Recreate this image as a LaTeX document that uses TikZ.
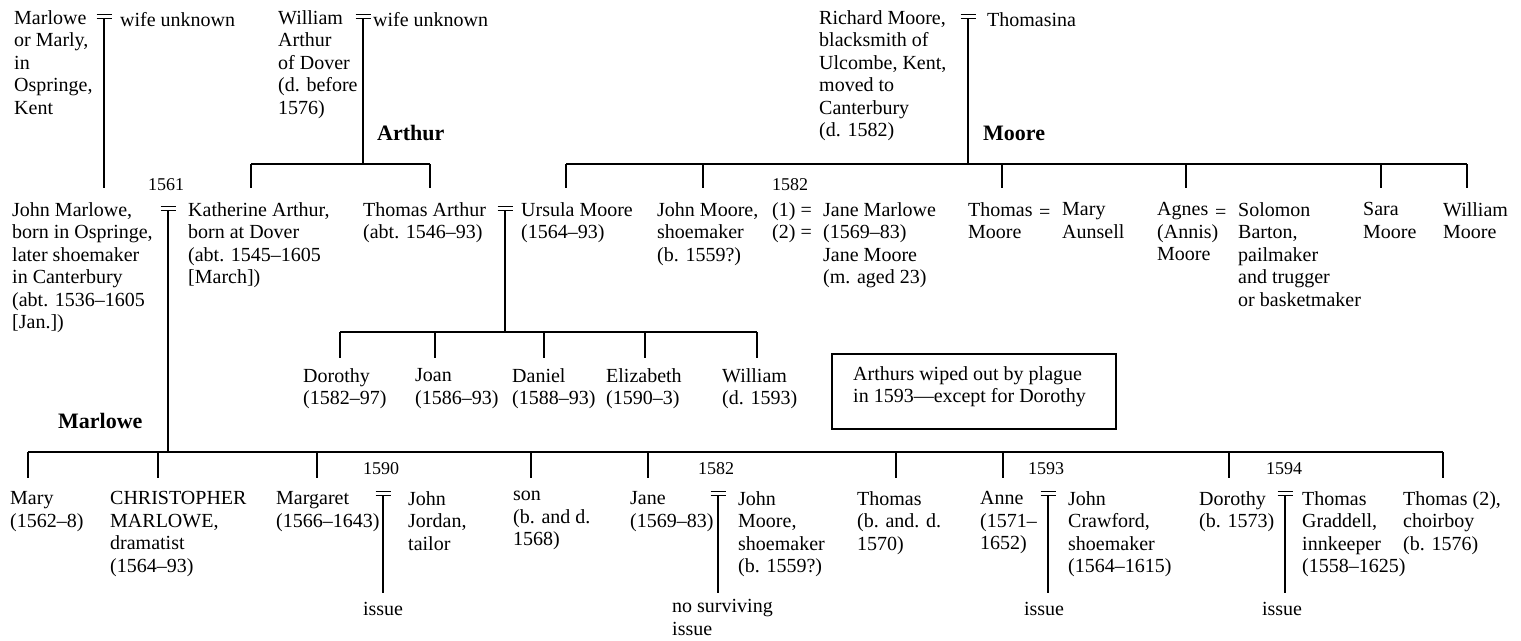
\documentclass[tikz,border=0pt]{standalone}
\usepackage{fontspec}
\setmainfont{Liberation Serif}
\usetikzlibrary{positioning}

\tikzset{
    person/.style={anchor=north west, yshift=10.75pt, execute at begin node=\strut, align=left,
        inner sep=0pt, font=\fontsize{20}{22.5}\selectfont},
    famname/.style={anchor=base west, inner sep=0pt, font=\fontsize{22}{24}\selectfont\bfseries},
    yearlabel/.style={anchor=base, inner sep=0pt, font=\fontsize{18}{20}\selectfont},
    treeline/.style={line width=1.7pt},
    notebox/.style={draw, line width=1.7pt, anchor=north west, inner sep=0pt,
        minimum width=284pt, minimum height=75pt},
}

% marriage sign, with a coordinate under it for the line of descent
\newcommand{\wedsign}[3]{%
    \draw[treeline] (#2-7.5,#3-2.5) -- (#2+7.5,#3-2.5);
    \draw[treeline] (#2-7.5,#3+1.5) -- (#2+7.5,#3+1.5);
    \coordinate (#1) at (#2,#3+1.5);
}

\begin{document}
\begin{tikzpicture}[x=1pt, y=-1pt]
    \useasboundingbox (0,0) rectangle (1521,640);

    % Oldest generation
    \node[person] (marly) at (14,21) {Marlowe\\or Marly,\\in\\Ospringe,\\Kent};
    \wedsign{marlywed}{104}{17}
    \node[person] (marlywife) at (120,21) {wife unknown};

    \node[person] (warthur) at (278,21) {William\\Arthur\\of Dover\\(d. before\\1576)};
    \wedsign{arthurwed}{363}{17}
    \node[person] (arthurwife) at (373,21) {wife unknown};

    \node[person] (rmoore) at (819,21) {Richard Moore,\\blacksmith of\\Ulcombe, Kent,\\moved to\\Canterbury\\(d. 1582)};
    \wedsign{moorewed}{968}{17}
    \node[person] (thomasina) at (987,21) {Thomasina};

    % Family names
    \node[famname] (arthurlbl) at (377,140) {Arthur};
    \node[famname] (moorelbl) at (983,140) {Moore};
    \node[famname] (marlowelbl) at (58,428) {Marlowe};

    % Lines of descent, first generation
    \coordinate (arthurbar) at (251,164);
    \coordinate (moorebar) at (566,164);
    \draw[treeline] (marlywed) -- (marlywed |- 0,188);
    \draw[treeline] (arthurwed) -- (arthurwed |- arthurbar);
    \draw[treeline] (moorewed) -- (moorewed |- moorebar);
    \draw[treeline] (arthurbar) -- (430,164);
    \draw[treeline] (moorebar) -- (1467,164);
    \foreach \x in {251,430,566,703,1002,1186,1381,1467} {
        \draw[treeline] (\x,164) -- (\x,188);
    }

    % Second generation
    \node[yearlabel] (yr1561) at (166,190) {1561};
    \node[person] (jmarlowe) at (12,213) {John Marlowe,\\born in Ospringe,\\later shoemaker\\in Canterbury\\(abt. 1536--1605\\{}[Jan.])};
    \wedsign{jmwed}{168}{209}
    \node[person] (katherine) at (188,213) {Katherine Arthur,\\born at Dover\\(abt. 1545--1605\\{}[March])};

    \node[person] (tarthur) at (363,213) {Thomas Arthur\\(abt. 1546--93)};
    \wedsign{tawed}{505}{209}
    \node[person] (ursula) at (521,213) {Ursula Moore\\(1564--93)};

    \node[person] (jmoore) at (657,213) {John Moore,\\shoemaker\\(b. 1559?)};
    \node[yearlabel] (yr1582a) at (790,190) {1582};
    \node[person, anchor=north east, align=right] (jmwives) at (812,213) {(1) =\\(2) =};
    \node[person] (jmarlowe2) at (823,213) {Jane Marlowe\\(1569--83)\\Jane Moore\\(m. aged 23)};

    \node[person] (tmoore) at (968,213) {Thomas\\Moore};
    \node[person] (tmeq) at (1039,213) {=};
    \node[person] (mary) at (1062,213) {Mary\\Aunsell};

    \node[person] (agnes) at (1157,213) {Agnes\\(Annis)\\Moore};
    \node[person] (ageq) at (1215,213) {=};
    \node[person] (solomon) at (1238,213) {Solomon\\Barton,\\pailmaker\\and trugger\\or basketmaker};

    \node[person] (sara) at (1363,213) {Sara\\Moore};
    \node[person] (wmoore) at (1443,213) {William\\Moore};

    % Arthur children
    \coordinate (tabar) at (340,332);
    \draw[treeline] (tawed) -- (tawed |- tabar);
    \draw[treeline] (tabar) -- (757,332);
    \foreach \x in {340,435,544,645,757} {
        \draw[treeline] (\x,332) -- (\x,358);
    }
    \node[person] (dorothya) at (303,379) {Dorothy\\(1582--97)};
    \node[person] (joan) at (415,379) {Joan\\(1586--93)};
    \node[person] (daniel) at (512,379) {Daniel\\(1588--93)};
    \node[person] (elizabeth) at (606,379) {Elizabeth\\(1590--3)};
    \node[person] (williama) at (722,379) {William\\(d. 1593)};

    % Note on the plague
    \node[notebox] (plague) at (831,353) {};
    \node[person] (plaguetext) at (853,377) {Arthurs wiped out by plague\\in 1593---except for Dorothy};

    % Marlowe children
    \coordinate (jmbar) at (28,452);
    \draw[treeline] (jmwed) -- (jmwed |- jmbar);
    \draw[treeline] (jmbar) -- (1443,452);
    \foreach \x in {28,158,317,531,648,896,1003,1229,1443} {
        \draw[treeline] (\x,452) -- (\x,478);
    }
    \node[person] (mary2) at (10,502) {Mary\\(1562--8)};
    \node[person] (kit) at (110,502) {CHRISTOPHER\\MARLOWE,\\dramatist\\(1564--93)};

    \node[person] (margaret) at (276,502) {Margaret\\(1566--1643)};
    \node[yearlabel] (yr1590) at (381,474) {1590};
    \wedsign{mgwed}{383}{494}
    \node[person] (jordan) at (408,502) {John\\Jordan,\\tailor};
    \node[person, anchor=north] (issuea) at (383,610) {issue};

    \node[person] (son) at (513,502) {son\\(b. and d.\\1568)};

    \node[person] (jane) at (630,502) {Jane\\(1569--83)};
    \node[yearlabel] (yr1582b) at (716,474) {1582};
    \wedsign{janewed}{718}{494}
    \node[person] (jmoore2) at (738,502) {John\\Moore,\\shoemaker\\(b. 1559?)};
    \node[person] (noissue) at (672,610) {no surviving\\issue};

    \node[person] (thomas) at (857,502) {Thomas\\(b. and. d.\\1570)};

    \node[person] (anne) at (980,502) {Anne\\(1571--\\1652)};
    \node[yearlabel] (yr1593) at (1046,474) {1593};
    \wedsign{annewed}{1048}{494}
    \node[person] (crawford) at (1068,502) {John\\Crawford,\\shoemaker\\(1564--1615)};
    \node[person, anchor=north] (issueb) at (1044,610) {issue};

    \node[person] (dorothyb) at (1199,502) {Dorothy\\(b. 1573)};
    \node[yearlabel] (yr1594) at (1284,474) {1594};
    \wedsign{dorwed}{1285}{494}
    \node[person] (graddell) at (1302,502) {Thomas\\Graddell,\\innkeeper\\(1558--1625)};
    \node[person, anchor=north] (issuec) at (1282,610) {issue};

    \node[person] (thomas2) at (1403,502) {Thomas (2),\\choirboy\\(b. 1576)};

    % Lines down to the issue
    \foreach \w in {mgwed,janewed,annewed,dorwed} {
        \draw[treeline] (\w) -- (\w |- 0,593);
    }
\end{tikzpicture}
\end{document}
